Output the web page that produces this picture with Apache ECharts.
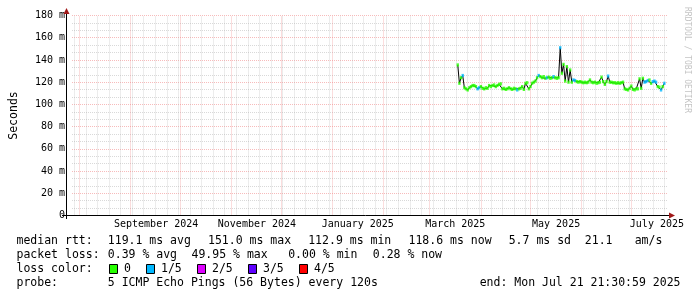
<!DOCTYPE html>
<html><head><meta charset="utf-8">
<script src="https://cdn.jsdelivr.net/npm/echarts@6/dist/echarts.min.js"></script>
<style>html,body{margin:0;padding:0;background:#fff}#c{width:697px;height:297px}</style>
</head><body><div id="c"></div>
<script>
// x values are days counted from 2024-08-01
const dayStart = 229; // 2025-03-18, first sample
const medianRtt = [
  135.5,119,124,126,115,114,113,115,116,117,
  117,116,114,115,116,114.5,114,115,114.5,117,
  116,117,117.5,116,117,118,118.5,114,114.5,113.5,
  114,115,114,113.5,114.5,114,113,114,114.5,116,
  113.5,119,119.5,114,116,119,120,121,124,126,
  125,124,125,123.5,124,124.5,123.5,124,125,124,
  123.5,124,151,128,136,121,134,120,131,120,
  122,121.5,120.5,120,120.5,120,119.5,120,119.5,120,
  122,120,119.5,120,119,119.5,120,124.5,120.5,118,
  120.5,125.5,120,120,119.5,119.5,119,119.5,119,119.5,
  120,114,113.5,113,114.5,116.5,113.5,113,114,114,
  123,114.5,123.5,120,120.5,121.5,122,119,120.5,121,
  120,116,115.5,113,116,119
];
const lossLevel = [
  0,0,0,1,0,0,0,0,0,0,
  0,0,1,1,0,0,0,0,0,0,
  0,0,0,0,0,0,0,0,0,0,
  0,0,0,0,0,0,1,0,0,0,
  0,0,0,0,0,0,0,0,0,1,
  0,0,0,0,1,0,0,0,1,0,
  0,0,1,0,0,0,0,0,0,0,
  1,1,0,0,0,0,0,0,0,0,
  0,0,0,0,0,0,0,0,0,0,
  0,1,0,0,0,0,0,0,0,0,
  0,0,0,0,0,0,0,0,0,0,
  0,0,0,1,1,1,0,0,1,1,
  1,0,0,1,0,1
];
const xMin = -4.4, xMax = 355.6;             // 360 days shown
const monthTicks = [0,31,61,92,122,153,184,212,243,273,304,334]; // 1st of each month
const firstMonday = -3;                       // 2024-07-29
const labelDays = [46.5,107.5,168.5,227.5,288.5,349.5];
const monthLabels = ['September 2024','November 2024','January 2025','March 2025','May 2025','July 2025'];
const lossNames = ['0','1/5','2/5','3/5','4/5'];
const lossColors = ['#26ff00','#00b8ff','#dd00ff','#5e00ff','#ff0000'];
const rttLegend = ['median rtt:','119.1 ms avg','151.0 ms max','112.9 ms min','118.6 ms now','5.7 ms sd','21.1','am/s'];
const lossLegend = ['packet loss:','0.39 % avg','49.95 % max','0.00 % min','0.28 % now'];
const probeLegend = ['probe:','5 ICMP Echo Pings (56 Bytes) every 120s','end: Mon Jul 21 21:30:59 2025'];

const weekTicks = [];
for (let d = firstMonday; d <= xMax; d += 7) weekTicks.push(d);

const points = medianRtt.map((v,i)=>[dayStart+i, v, lossLevel[i]]);
const MONO = '"DejaVu Sans Mono", monospace';
const LFONT = '11.5px ' + MONO;
const GRIDMINOR = 'rgba(170,170,170,0.45)';
const GRIDMAJOR = 'rgba(240,120,120,0.5)';

const graphic = [];
function txt(x,y,t,font,fill){graphic.push({type:'text',x:x,y:y,z:100,silent:true,style:{text:t,font:font||LFONT,fill:fill||'#000',verticalAlign:'middle'}});}
const rttX = [16.5,107.8,208,308.2,408.5,508.7,584.8,634.7];
rttLegend.forEach((t,i)=>txt(rttX[i],241,t));
const lossX = [16.5,107.8,191.5,288.2,372.8];
lossLegend.forEach((t,i)=>txt(lossX[i],255,t));
txt(16.5,269,'loss color:');
const boxX = [109,146,197,248,299];
lossNames.forEach((n,i)=>{
  graphic.push({type:'rect',z:100,silent:true,shape:{x:boxX[i]+0.5,y:264.5,width:8,height:9},style:{fill:lossColors[i],stroke:'#000',lineWidth:1}});
  txt(boxX[i]+15,269,n);
});
const probeX = [16.5,107.8,479.7];
probeLegend.forEach((t,i)=>txt(probeX[i],283,t));
// axes lines and arrows
graphic.push({type:'line',z:100,silent:true,shape:{x1:66.5,y1:219,x2:66.5,y2:13},style:{stroke:'#000',lineWidth:1}});
graphic.push({type:'line',z:100,silent:true,shape:{x1:62,y1:215.5,x2:669,y2:215.5},style:{stroke:'#000',lineWidth:1}});
graphic.push({type:'polygon',z:101,silent:true,shape:{points:[[66.5,8],[63.5,14],[69.5,14]]},style:{fill:'#a01818'}});
graphic.push({type:'polygon',z:101,silent:true,shape:{points:[[675,215.5],[669,212.5],[669,218.5]]},style:{fill:'#a01818'}});
// watermark
graphic.push({type:'text',x:687,y:60,rotation:-Math.PI/2,z:100,silent:true,style:{text:'RRDTOOL / TOBI OETIKER',font:'8px '+MONO,fill:'#c4c4c4',align:'center',verticalAlign:'middle'}});

const markData = weekTicks.map(d=>({xAxis:d,lineStyle:{color:GRIDMINOR,type:'dotted',width:1}}))
  .concat(monthTicks.map(d=>({xAxis:d,lineStyle:{color:GRIDMAJOR,type:'dotted',width:1}})));

const chart = echarts.init(document.getElementById('c'));
chart.setOption({
  animation:false,
  backgroundColor:'#fff',
  grid:{left:67,top:15.5,width:600,height:200},
  xAxis:{type:'value',min:xMin,max:xMax,splitLine:{show:false},axisLine:{show:false},axisTick:{show:false},
    axisLabel:{customValues:labelDays,fontFamily:MONO,fontSize:10,color:'#000',margin:4,
      formatter:function(v){let b=0;labelDays.forEach((d,i)=>{if(Math.abs(d-v)<Math.abs(labelDays[b]-v))b=i;});return monthLabels[b];}}},
  yAxis:{type:'value',min:0,max:180,interval:20,name:'Seconds',nameLocation:'middle',nameGap:52,
    nameTextStyle:{fontFamily:MONO,fontSize:11.5,color:'#000'},
    axisLine:{show:false},axisTick:{show:false},
    axisLabel:{fontFamily:MONO,fontSize:10,color:'#000',margin:7,formatter:v=>v===0?'0':v+' m'},
    splitLine:{lineStyle:{color:GRIDMAJOR,type:'dotted',width:1}},
    minorTick:{show:false,splitNumber:3},
    minorSplitLine:{show:true,lineStyle:{color:GRIDMINOR,type:'dotted',width:1}}},
  series:[
    {type:'line',data:points.map(p=>[p[0],p[1]]),symbol:'none',lineStyle:{color:'#000',width:1},z:3,
      markLine:{z:1,silent:true,symbol:['none','none'],label:{show:false},animation:false,data:markData}},
    {type:'scatter',data:points,symbol:'rect',symbolSize:[2.4,3.2],z:4,
      itemStyle:{color:p=>lossColors[p.value[2]]}}
  ],
  graphic:graphic
});
</script></body></html>
